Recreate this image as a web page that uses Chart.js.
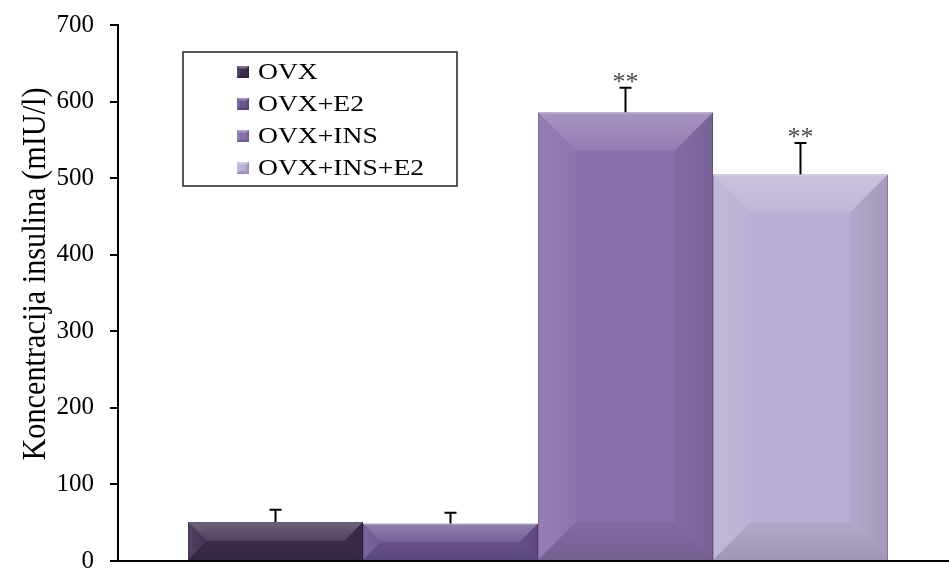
<!DOCTYPE html>
<html>
<head>
<meta charset="utf-8">
<title>Koncentracija insulina</title>
<script src="https://cdn.jsdelivr.net/npm/chart.js@4.4.1/dist/chart.umd.min.js"></script>
<style>
  html, body { margin: 0; padding: 0; background: #fff; width: 949px; height: 568px; overflow: hidden; }
  canvas { display: block; }
</style>
</head>
<body>
<canvas id="chart" width="960" height="568"></canvas>
<script>
// Serum insulin per treatment group (mean and SEM, mIU/l)
const groups = ['OVX', 'OVX+E2', 'OVX+INS', 'OVX+INS+E2'];
const insulin = [51, 49, 586, 505];
const sem = [16, 14, 32, 41];
const significance = ['', '', '**', '**'];
const yTicks = [0, 100, 200, 300, 400, 500, 600, 700];
const yTitle = 'Koncentracija insulina (mIU/l)';

const faceColors = ['#3d2d4f', '#6a5490', '#8870ab', '#bbaed4'];
const edgeColors = ['#2e2240', '#56437c', '#6e5894', '#9687b0'];
const serif = '"Liberation Serif", "Times New Roman", serif';

// Beveled face: soft light top/left, dark right/bottom trapezoids
function bevel(ctx, l, t, r, b, size, k) {
  const s = Math.min(size, (b - t) / 2, (r - l) / 2);
  const parts = [
    { pts: [[l, t], [r, t], [r - s, t + s], [l + s, t + s]], g: [l, t, l, t + s], rgb: '255,255,255', a: 0.26 * k },
    { pts: [[l, t], [l + s, t + s], [l + s, b - s], [l, b]], g: [l, t, l + s, t], rgb: '255,255,255', a: 0.10 * k },
    { pts: [[r, t], [r, b], [r - s, b - s], [r - s, t + s]], g: [r, t, r - s, t], rgb: '0,0,0', a: 0.12 * k },
    { pts: [[l, b], [l + s, b - s], [r - s, b - s], [r, b]], g: [l, b, l, b - s], rgb: '0,0,0', a: 0.14 * k }
  ];
  parts.forEach(p => {
    const grad = ctx.createLinearGradient(p.g[0], p.g[1], p.g[2], p.g[3]);
    grad.addColorStop(0, 'rgba(' + p.rgb + ',' + p.a + ')');
    grad.addColorStop(1, 'rgba(' + p.rgb + ',' + (p.a * 0.35) + ')');
    ctx.beginPath();
    ctx.moveTo(p.pts[0][0], p.pts[0][1]);
    for (let i = 1; i < p.pts.length; i++) ctx.lineTo(p.pts[i][0], p.pts[i][1]);
    ctx.closePath();
    ctx.fillStyle = grad;
    ctx.fill();
  });
}

const barDecor = {
  id: 'barDecor',
  afterDatasetsDraw(chart) {
    const ctx = chart.ctx;
    const yScale = chart.scales.y;
    chart.data.datasets.forEach((ds, i) => {
      const bar = chart.getDatasetMeta(i).data[0];
      const l = bar.x - bar.width / 2, r = bar.x + bar.width / 2;
      ctx.save();
      bevel(ctx, l, bar.y, r, bar.base, 38, 1);
      ctx.restore();

      // error bar (upper whisker only)
      const top = yScale.getPixelForValue(insulin[i] + sem[i]);
      ctx.save();
      ctx.strokeStyle = '#000';
      ctx.lineWidth = 2;
      ctx.beginPath();
      ctx.moveTo(bar.x, bar.y);
      ctx.lineTo(bar.x, top);
      ctx.moveTo(bar.x - 6, top);
      ctx.lineTo(bar.x + 6, top);
      ctx.stroke();
      if (significance[i]) {
        ctx.fillStyle = '#4a4a4a';
        ctx.font = '26px ' + serif;
        ctx.textAlign = 'center';
        ctx.textBaseline = 'alphabetic';
        ctx.fillText(significance[i], bar.x, top + 2);
      }
      ctx.restore();
    });
  }
};

const boxLegend = {
  id: 'boxLegend',
  afterDraw(chart) {
    const ctx = chart.ctx;
    const area = chart.chartArea;
    const x0 = area.left + 65, y0 = area.top + 27;
    const w = 274, h = 134;
    ctx.save();
    ctx.fillStyle = '#fff';
    ctx.fillRect(x0, y0, w, h);
    ctx.strokeStyle = '#222';
    ctx.lineWidth = 1.5;
    ctx.strokeRect(x0, y0, w, h);
    chart.data.datasets.forEach((ds, i) => {
      const cy = y0 + 20 + i * 32;
      const mx = x0 + 54;
      ctx.fillStyle = faceColors[i];
      ctx.fillRect(mx, cy - 6, 12, 12);
      bevel(ctx, mx, cy - 6, mx + 12, cy + 6, 3, 1.6);
      ctx.save();
      ctx.translate(mx + 21, cy + 1);
      ctx.scale(1.15, 1);
      ctx.fillStyle = '#000';
      ctx.font = '24px ' + serif;
      ctx.textAlign = 'left';
      ctx.textBaseline = 'middle';
      ctx.fillText(ds.label, 0, 0);
      ctx.restore();
    });
    ctx.restore();
  }
};

const axisTitle = {
  id: 'axisTitle',
  afterDraw(chart) {
    const ctx = chart.ctx;
    ctx.save();
    ctx.translate(36, 274);
    ctx.rotate(-Math.PI / 2);
    ctx.scale(0.89, 1);
    ctx.fillStyle = '#000';
    ctx.font = '34px ' + serif;
    ctx.textAlign = 'center';
    ctx.textBaseline = 'middle';
    ctx.fillText(yTitle, 0, 0);
    ctx.restore();
  }
};

new Chart(document.getElementById('chart'), {
  type: 'bar',
  data: {
    labels: [''],
    datasets: groups.map((g, i) => ({
      label: g,
      data: [insulin[i]],
      backgroundColor: faceColors[i],
      borderColor: edgeColors[i],
      borderWidth: 1,
      categoryPercentage: 0.8333,
      barPercentage: 1.0
    }))
  },
  options: {
    responsive: false,
    animation: false,
    layout: { padding: { top: 25, right: 2, bottom: 0, left: 0 } },
    plugins: {
      legend: { display: false },
      tooltip: { enabled: false }
    },
    scales: {
      x: {
        ticks: { display: false },
        grid: { display: false },
        border: { display: true, color: '#000', width: 2 },
        afterFit(s) { s.height = 7; }
      },
      y: {
        min: 0,
        max: 700,
        afterBuildTicks(s) { s.ticks = yTicks.map(v => ({ value: v })); },
        ticks: {
          color: '#000',
          padding: 16,
          font: { family: serif, size: 25 }
        },
        grid: {
          drawOnChartArea: false,
          drawTicks: true,
          tickLength: 8,
          color: '#000',
          lineWidth: 2
        },
        border: { display: true, color: '#000', width: 2 },
        afterFit(s) {
          s.width = 118;
          s.paddingTop = 0;
          s.paddingBottom = 0;
        }
      }
    }
  },
  plugins: [barDecor, boxLegend, axisTitle]
});
</script>
</body>
</html>
